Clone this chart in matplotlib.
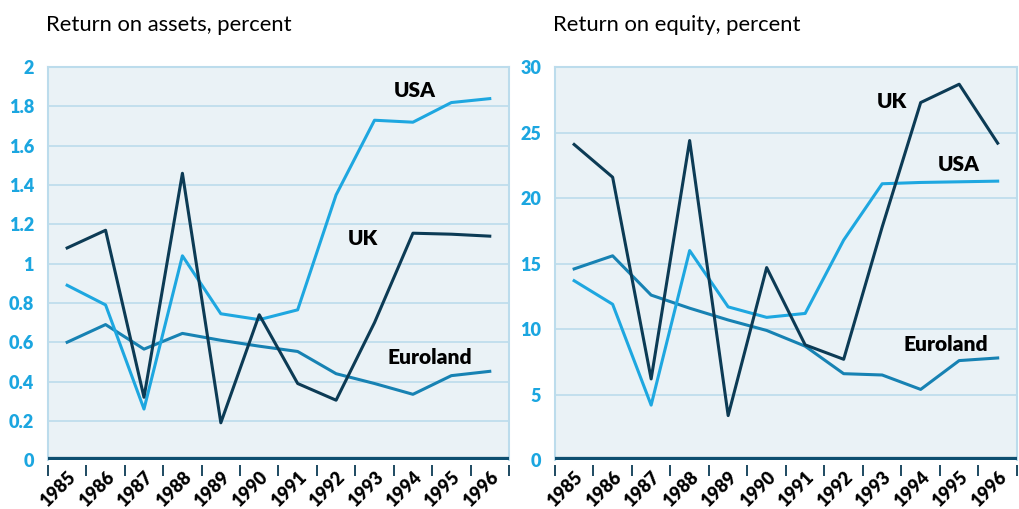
import numpy as np
import matplotlib.pyplot as plt

# data
years = ['1985', '1986', '1987', '1988', '1989', '1990',
         '1991', '1992', '1993', '1994', '1995', '1996']

roa_usa = [0.89, 0.79, 0.26, 1.04, 0.745, 0.715, 0.765, 1.35, 1.73, 1.72, 1.82, 1.84]
roa_uk = [1.08, 1.17, 0.32, 1.46, 0.19, 0.74, 0.39, 0.305, 0.70, 1.155, 1.15, 1.14]
roa_euro = [0.60, 0.69, 0.565, 0.645, 0.61, 0.58, 0.553, 0.44, 0.39, 0.335, 0.43, 0.452]

roe_usa = [13.7, 11.9, 4.2, 16.0, 11.7, 10.9, 11.2, 16.8, 21.1, 21.2, 21.25, 21.3]
roe_uk = [24.1, 21.6, 6.2, 24.4, 3.4, 14.7, 8.8, 7.7, 17.8, 27.3, 28.7, 24.2]
roe_euro = [14.6, 15.6, 12.6, 11.6, 10.7, 9.9, 8.7, 6.6, 6.5, 5.4, 7.6, 7.8]

C_USA = '#1ea7e0'
C_EURO = '#1782b3'
C_UK = '#0c3b55'
C_BG = '#eaf2f6'
C_GRID = '#bcdcec'
C_TICK = '#1ba6e0'

plt.rcParams['font.family'] = ['Lato', 'DejaVu Sans']

fig = plt.figure(figsize=(10.2, 5.09), dpi=100)
ax1 = fig.add_axes([0.047, 0.096, 0.452, 0.772])
ax2 = fig.add_axes([0.544, 0.096, 0.453, 0.772])

x = np.arange(len(years))


def panel(ax, usa, uk, euro, ymax, step, title, labels):
    ax.set_facecolor(C_BG)
    ax.plot(x, euro, color=C_EURO, lw=2.2, zorder=3)
    ax.plot(x, usa, color=C_USA, lw=2.2, zorder=3)
    ax.plot(x, uk, color=C_UK, lw=2.2, zorder=4)
    ax.set_xlim(-0.5, len(years) - 0.5)
    ax.set_ylim(0, ymax)
    yt = np.arange(0, ymax + step / 2, step)
    ax.set_yticks(yt)
    ax.set_yticklabels([('%g' % v) for v in yt], color=C_TICK,
                       fontsize=13, fontweight='heavy')
    ax.tick_params(axis='y', length=0, pad=10)
    for v in yt[1:]:
        ax.axhline(v, color=C_GRID, lw=1.2, zorder=1)
    ax.axhline(0, color='#0e4f70', lw=4.5, zorder=5)
    # small separators between the years, below the axis
    ax.vlines(np.arange(-0.5, len(years)), -0.04, -0.012,
              transform=ax.get_xaxis_transform(), color=C_UK, lw=1.3,
              clip_on=False)
    ax.set_xticks(x)
    ax.set_xticklabels(years, rotation=45, ha='right', va='top',
                       rotation_mode='anchor', fontsize=13, fontweight='heavy')
    ax.tick_params(axis='x', length=0, pad=6)
    for s in ax.spines.values():
        s.set_color(C_GRID)
        s.set_linewidth(1.5)
    ax.spines['bottom'].set_visible(False)
    ax.set_title(title, loc='left', fontsize=15.8, pad=26, x=-0.005)
    for name, (lx, ly) in labels.items():
        ax.text(lx, ly, name, fontsize=15, fontweight='heavy', color='black',
                ha='left', va='center', zorder=6)


panel(ax1, roa_usa, roa_uk, roa_euro, 2, 0.2, 'Return on assets, percent',
      {'USA': (8.5, 1.88), 'UK': (7.3, 1.13), 'Euroland': (8.35, 0.52)})
panel(ax2, roe_usa, roe_uk, roe_euro, 30, 5, 'Return on equity, percent',
      {'UK': (7.85, 27.4), 'USA': (9.45, 22.6), 'Euroland': (8.55, 8.8)})

fig.savefig('out.png', dpi=100)
